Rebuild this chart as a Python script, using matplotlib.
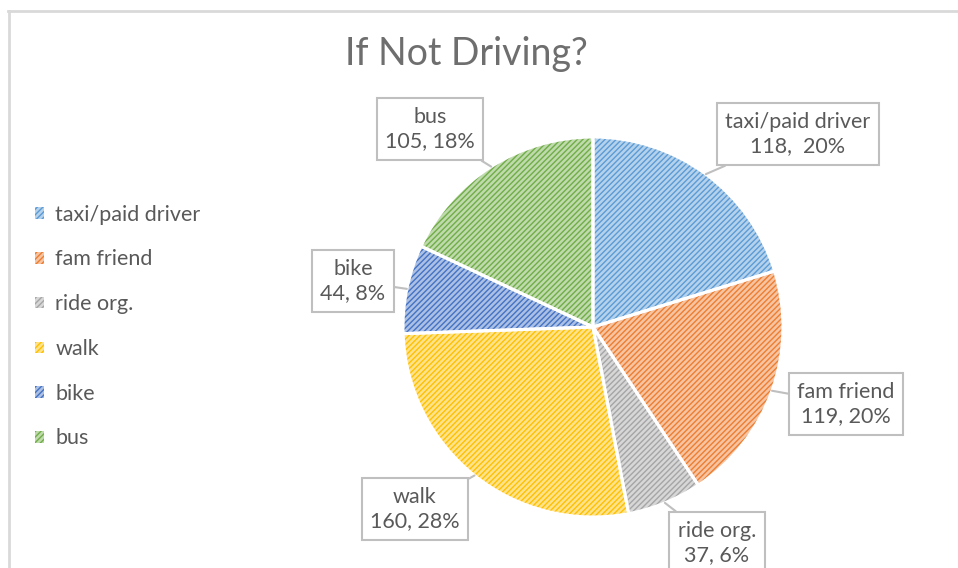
import numpy as np
import matplotlib
matplotlib.use("Agg")
import matplotlib.pyplot as plt
from matplotlib.colors import to_rgb

plt.rcParams['font.family'] = ['Lato', 'DejaVu Sans']
plt.rcParams['hatch.linewidth'] = 1.0

categories = ["taxi/paid driver", "fam friend", "ride org.", "walk", "bike", "bus"]
values = [118, 119, 37, 160, 44, 105]
percents = [20, 20, 6, 28, 8, 18]
separators = [",  ", ", ", ", ", ", ", ", ", ", "]
colors = ["#5B9BD5", "#ED7D31", "#A5A5A5", "#FFC000", "#4472C4", "#70AD47"]

# label box centres in pixel coords (y up)
box_pos = [(798, 434), (846, 164), (717, 25), (415, 59), (353, 287), (430, 439)]

TEXT = "#595959"
W, H = 958, 568


def tint(c, amount):
    """Blend a colour towards white."""
    r, g, b = to_rgb(c)
    return (r + (1 - r) * amount, g + (1 - g) * amount, b + (1 - b) * amount)


fig = plt.figure(figsize=(W / 100, H / 100), dpi=100)
ax = fig.add_axes([0, 0, 1, 1])

center = (593, 241)
radius = 190

wedges, _ = ax.pie(values, center=center, radius=radius, startangle=90,
                   counterclock=False, colors=[tint(c, 0.55) for c in colors])
for w, c in zip(wedges, colors):
    w.set_hatch('//////')
    w.set_edgecolor(c)
    w.set_linewidth(0)

# white separators between slices
sep, _ = ax.pie(values, center=center, radius=radius, startangle=90,
                counterclock=False,
                wedgeprops=dict(facecolor='none', edgecolor='white', linewidth=2.2))

ax.set_xlim(0, W)
ax.set_ylim(0, H)
ax.set_aspect('equal')
ax.axis('off')

# data labels with callout lines
for w, cat, v, p, s, pos in zip(wedges, categories, values, percents, separators, box_pos):
    ang = np.deg2rad((w.theta1 + w.theta2) / 2)
    xy = (center[0] + radius * np.cos(ang), center[1] + radius * np.sin(ang))
    ax.annotate(f"{cat}\n{v}{s}{p}%", xy=xy, xytext=pos, ha='center', va='center',
                fontsize=15.5, color=TEXT, linespacing=1.3, annotation_clip=False,
                bbox=dict(boxstyle='square,pad=0.4', fc='white', ec='#BFBFBF', lw=1.5),
                arrowprops=dict(arrowstyle='-', color='#BFBFBF', lw=1.5, shrinkA=0, shrinkB=0))

ax.text(466, 514, "If Not Driving?", ha='center', va='center', fontsize=27,
        color='#6E6E6E')

leg = ax.legend(wedges, categories, loc='center left', bbox_to_anchor=(0.016, 0.425),
                frameon=False, fontsize=15.5, labelcolor=TEXT, handlelength=0.45,
                handleheight=0.45, handletextpad=0.5, labelspacing=1.15)

# chart area frame
ax.plot([8, W], [H - 11, H - 11], color='#D9D9D9', lw=2, clip_on=False)
ax.plot([9, 9], [0, H - 11], color='#D9D9D9', lw=2, clip_on=False)

fig.savefig("out.png", dpi=100)
